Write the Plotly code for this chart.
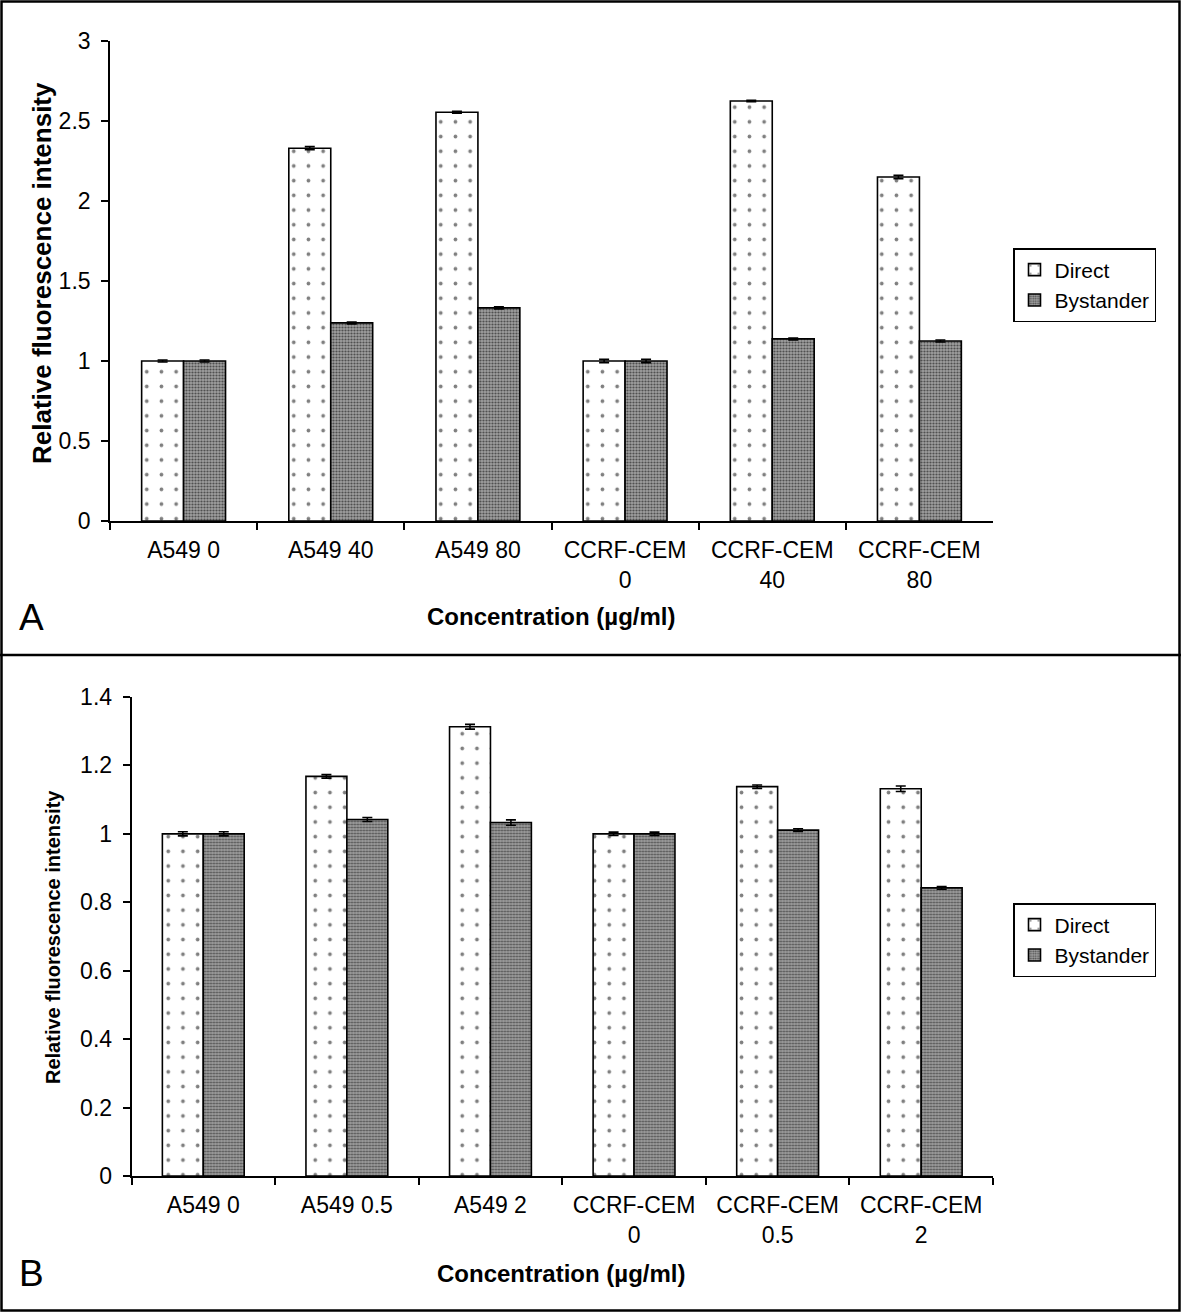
import plotly.graph_objects as go

# ---------------- data ----------------
cats_a = ["A549 0", "A549 40", "A549 80", "CCRF-CEM<br>0", "CCRF-CEM<br>40", "CCRF-CEM<br>80"]
direct_a = [1.00, 2.33, 2.555, 1.00, 2.625, 2.15]
direct_a_err = [0.006, 0.010, 0.006, 0.010, 0.005, 0.010]
bystander_a = [1.00, 1.238, 1.332, 1.00, 1.138, 1.125]
bystander_a_err = [0.006, 0.006, 0.006, 0.010, 0.006, 0.006]

cats_b = ["A549 0", "A549 0.5", "A549 2", "CCRF-CEM<br>0", "CCRF-CEM<br>0.5", "CCRF-CEM<br>2"]
direct_b = [1.00, 1.168, 1.313, 1.00, 1.138, 1.132]
direct_b_err = [0.006, 0.005, 0.007, 0.005, 0.005, 0.008]
bystander_b = [1.00, 1.042, 1.033, 1.00, 1.011, 0.842]
bystander_b_err = [0.006, 0.006, 0.008, 0.005, 0.004, 0.004]

series_names = ["Direct", "Bystander"]
yticks_a = [0, 0.5, 1, 1.5, 2, 2.5, 3]
yticks_b = [0, 0.2, 0.4, 0.6, 0.8, 1.0, 1.2, 1.4]

# ---------------- styling ----------------
W, H = 1181, 1312
FONT = "Liberation Sans, Arial, sans-serif"
pat_direct = dict(shape=".", bgcolor="white", fgcolor="black", size=14.7, solidity=0.05)
pat_byst = dict(shape=".", bgcolor="#a0a0a0", fgcolor="#000000", size=3, solidity=0.42)

def px_x(p):
    return p / W

def px_y(p):
    return 1 - p / H

fig = go.Figure()

def add_pair(cats, d, de, b, be, xa, ya, leg):
    fig.add_trace(go.Bar(
        x=cats, y=d, name=series_names[0], xaxis=xa, yaxis=ya, legend=leg,
        marker=dict(color="white", pattern=pat_direct, line=dict(color="black", width=1.6)),
        error_y=dict(type="data", array=de, visible=True, color="black", thickness=1.6, width=5),
    ))
    fig.add_trace(go.Bar(
        x=cats, y=b, name=series_names[1], xaxis=xa, yaxis=ya, legend=leg,
        marker=dict(color="white", pattern=pat_byst, line=dict(color="black", width=1.6)),
        error_y=dict(type="data", array=be, visible=True, color="black", thickness=1.6, width=5),
    ))

add_pair(cats_a, direct_a, direct_a_err, bystander_a, bystander_a_err, "x", "y", "legend")
add_pair(cats_b, direct_b, direct_b_err, bystander_b, bystander_b_err, "x2", "y2", "legend2")

axis_common = dict(showline=True, linecolor="black", linewidth=1.6, showgrid=False, zeroline=False,
                   ticks="outside", tickcolor="black", tickwidth=1.6, automargin=False,
                   tickfont=dict(family=FONT, size=23, color="black"))

legend_common = dict(bgcolor="white", bordercolor="black", borderwidth=1.5,
                     font=dict(family=FONT, size=21, color="black"),
                     xanchor="left", yanchor="top", tracegroupgap=0, itemwidth=30)

fig.update_layout(
    width=W, height=H,
    margin=dict(l=0, r=0, t=0, b=0, autoexpand=False),
    paper_bgcolor="white", plot_bgcolor="white",
    barmode="group", bargap=0.43, bargroupgap=0,
    showlegend=True,
    xaxis=dict(domain=[px_x(110), px_x(993)], anchor="y", tickson="boundaries", ticklen=7,
               ticklabelstandoff=8, **axis_common),
    yaxis=dict(domain=[px_y(521), px_y(41)], anchor="x", range=[0, 3], tickvals=yticks_a, ticklen=7,
               ticklabelstandoff=6, **axis_common),
    xaxis2=dict(domain=[px_x(131.5), px_x(993)], anchor="y2", tickson="boundaries", ticklen=7,
                ticklabelstandoff=8, **axis_common),
    yaxis2=dict(domain=[px_y(1176), px_y(697)], anchor="x2", range=[0, 1.4], tickvals=yticks_b, ticklen=7,
                ticklabelstandoff=6, **axis_common),
    legend=dict(x=px_x(1013), y=px_y(248), **legend_common),
    legend2=dict(x=px_x(1013), y=px_y(903), **legend_common),
)

# panel borders
fig.add_shape(type="rect", xref="paper", yref="paper", x0=px_x(1.5), x1=px_x(1179.5), y0=px_y(1310.5), y1=px_y(1.5),
              line=dict(color="black", width=2.5))
fig.add_shape(type="line", xref="paper", yref="paper", x0=0, x1=1, y0=px_y(655), y1=px_y(655),
              line=dict(color="black", width=2.5))

ann = []
title_font = dict(family=FONT, size=24, color="black", weight="bold")
ytitle_font_a = dict(family=FONT, size=26, color="black", weight="bold")
ytitle_font_b = dict(family=FONT, size=20, color="black", weight="bold")
ann.append(dict(text="Concentration (µg/ml)", x=px_x(551), y=px_y(617), font=title_font))
ann.append(dict(text="Concentration (µg/ml)", x=px_x(561), y=px_y(1273), font=title_font))
ann.append(dict(text="Relative fluorescence intensity", x=px_x(42), y=px_y(273), textangle=-90, font=ytitle_font_a))
ann.append(dict(text="Relative fluorescence intensity", x=px_x(53), y=px_y(937), textangle=-90, font=ytitle_font_b))
ann.append(dict(text="A", x=px_x(31), y=px_y(618), font=dict(family=FONT, size=37, color="black")))
ann.append(dict(text="B", x=px_x(31), y=px_y(1273), font=dict(family=FONT, size=37, color="black")))
for a in ann:
    fig.add_annotation(xref="paper", yref="paper", showarrow=False, xanchor="center", yanchor="middle", **a)

fig.write_html(
    "out.html",
    config={"displayModeBar": False},
    post_script="document.body.style.margin='0';document.documentElement.style.overflow='hidden';document.body.style.overflow='hidden';",
)
